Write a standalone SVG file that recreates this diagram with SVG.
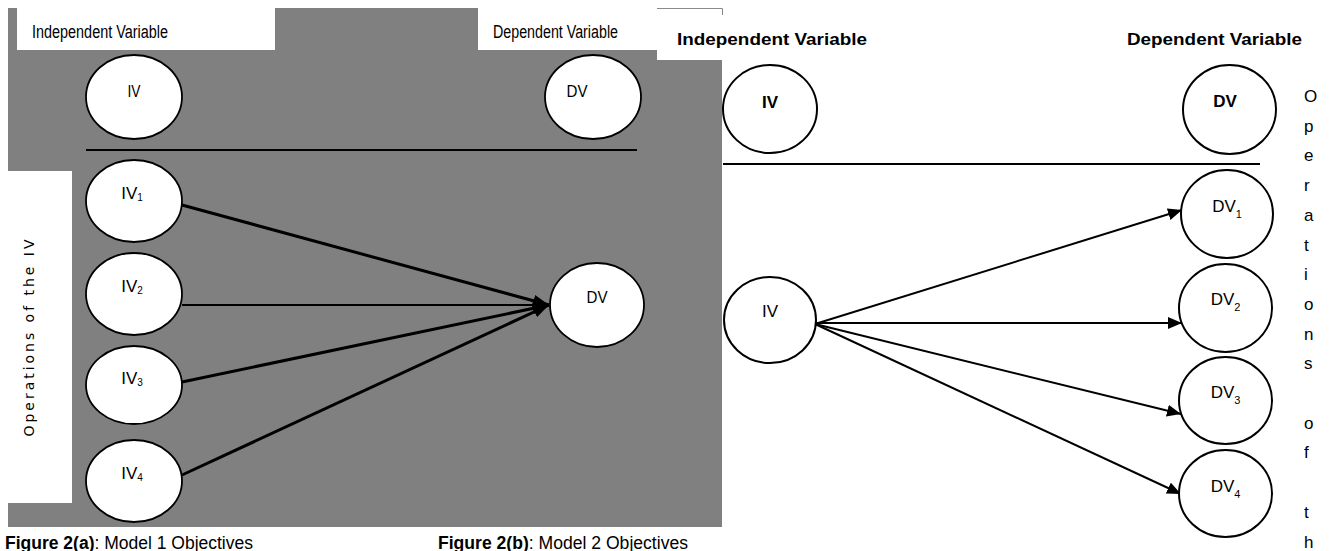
<svg xmlns="http://www.w3.org/2000/svg" width="1329" height="551" viewBox="0 0 1329 551">
<style>
.nodeA{fill:#fff;stroke:#000;stroke-width:1.8}
.nodeB{fill:#fff;stroke:#000;stroke-width:2}
.lblA{font-family:"Liberation Sans",Arial,sans-serif;font-size:17px;fill:#000;text-anchor:middle}
.hdrA{font-family:"Liberation Sans",Arial,sans-serif;font-size:18px;fill:#000}
.hdrB{font-family:"Liberation Sans",Arial,sans-serif;font-size:17px;fill:#000}
.lblB{font-family:"Liberation Sans",Arial,sans-serif;font-size:17px;fill:#000;text-anchor:middle}
.bold{font-weight:bold}
.sub{font-size:10px}
.subB{font-size:11px}
.cap{font-family:"Liberation Sans",Arial,sans-serif;font-size:18px;fill:#000}
.thick{stroke:#000;stroke-width:3;fill:none}
.thin{stroke:#000;stroke-width:1.8;fill:none}
.thinB{stroke:#000;stroke-width:2;fill:none}
</style>
<defs>
<marker id="ahA" markerUnits="userSpaceOnUse" markerWidth="16" markerHeight="12" refX="16" refY="6" orient="auto">
<path d="M0,0 L16,6 L0,12 z" fill="#000"/>
</marker>
<marker id="ahB" markerUnits="userSpaceOnUse" markerWidth="14" markerHeight="12" refX="14" refY="6" orient="auto">
<path d="M0,0 L14,6 L0,12 z" fill="#000"/>
</marker>
</defs>

<!-- Figure 2(a) background -->
<g id="panelA">
<rect x="8" y="8" width="714" height="519" fill="#808080"/>
<rect x="17" y="0" width="258" height="50" fill="#fff"/>
<rect x="478" y="0" width="244" height="50" fill="#fff"/>
<rect x="8" y="171" width="64" height="332" fill="#fff"/>
<text class="hdrA" x="32" y="38" textLength="136" lengthAdjust="spacingAndGlyphs">Independent Variable</text>
<text class="hdrA" x="493" y="38" textLength="125" lengthAdjust="spacingAndGlyphs">Dependent Variable</text>
<text x="0" y="0" transform="translate(34,338) rotate(-90)" font-family="DejaVu Sans, sans-serif" font-size="14" fill="#000" text-anchor="middle" textLength="197" lengthAdjust="spacing">Operations of the IV</text>
<line x1="86" y1="150" x2="637" y2="150" stroke="#000" stroke-width="1.8"/>
</g>

<!-- Figure 2(b) background cover -->
<rect x="657" y="0" width="80" height="60" fill="#fff"/>
<path d="M657,8.5 H722.5 V15" fill="none" stroke="#8a8a8a" stroke-width="1"/>

<g id="connectorsA">
<line class="thick" x1="182" y1="205" x2="549" y2="305" marker-end="url(#ahA)"/>
<line class="thin" x1="182" y1="305" x2="549" y2="305" marker-end="url(#ahA)"/>
<line class="thick" x1="182" y1="382" x2="549" y2="305" marker-end="url(#ahA)"/>
<line class="thick" x1="182" y1="475" x2="549" y2="305" marker-end="url(#ahA)"/>
</g>

<g id="a-IV"><ellipse class="nodeA" cx="134" cy="97" rx="48" ry="42"/><text class="lblA" x="134" y="97" textLength="13" lengthAdjust="spacingAndGlyphs">IV</text></g>
<g id="a-DV"><ellipse class="nodeA" cx="593" cy="97" rx="48" ry="42"/><text class="lblA" x="577" y="97" textLength="21" lengthAdjust="spacingAndGlyphs">DV</text></g>
<g id="a-IV1"><ellipse class="nodeA" cx="134" cy="201" rx="48" ry="41"/><text class="lblA" x="132" y="199">IV<tspan class="sub" dy="2">1</tspan></text></g>
<g id="a-IV2"><ellipse class="nodeA" cx="134" cy="294" rx="48" ry="41"/><text class="lblA" x="132" y="292">IV<tspan class="sub" dy="2">2</tspan></text></g>
<g id="a-IV3"><ellipse class="nodeA" cx="134" cy="385" rx="48" ry="39"/><text class="lblA" x="132" y="384">IV<tspan class="sub" dy="2">3</tspan></text></g>
<g id="a-IV4"><ellipse class="nodeA" cx="134" cy="481" rx="48" ry="41"/><text class="lblA" x="132" y="479">IV<tspan class="sub" dy="2">4</tspan></text></g>
<g id="a-DVc"><ellipse class="nodeA" cx="597" cy="305" rx="47" ry="42"/><text class="lblA" x="597" y="303" textLength="21" lengthAdjust="spacingAndGlyphs">DV</text></g>

<!-- Figure 2(b) -->
<g id="headersB">
<text class="hdrB bold" x="677" y="45" textLength="190" lengthAdjust="spacingAndGlyphs">Independent Variable</text>
<text class="hdrB bold" x="1127" y="45" textLength="175" lengthAdjust="spacingAndGlyphs">Dependent Variable</text>
<line x1="723" y1="164" x2="1260" y2="164" stroke="#000" stroke-width="2"/>
<text class="hdrB" x="1304" y="102" font-size="18">O<tspan x="1304" dy="29.7">p</tspan><tspan x="1304" dy="29.7">e</tspan><tspan x="1304" dy="29.7">r</tspan><tspan x="1304" dy="29.7">a</tspan><tspan x="1304" dy="29.7">t</tspan><tspan x="1304" dy="29.7">i</tspan><tspan x="1304" dy="29.7">o</tspan><tspan x="1304" dy="29.7">n</tspan><tspan x="1304" dy="29.7">s</tspan><tspan x="1304" dy="59.4">o</tspan><tspan x="1304" dy="29.7">f</tspan><tspan x="1304" dy="59.4">t</tspan><tspan x="1304" dy="29.7">h</tspan></text>
</g>

<g id="connectorsB">
<line class="thinB" x1="815" y1="324" x2="1182" y2="210" marker-end="url(#ahB)"/>
<line class="thinB" x1="816" y1="323" x2="1182" y2="323" marker-end="url(#ahB)"/>
<line class="thinB" x1="815" y1="324" x2="1181" y2="414" marker-end="url(#ahB)"/>
<line class="thinB" x1="815" y1="324" x2="1181" y2="494" marker-end="url(#ahB)"/>
</g>

<g id="b-IV"><ellipse class="nodeB" cx="770" cy="109" rx="47" ry="44"/><text class="lblB bold" x="770" y="108">IV</text></g>
<g id="b-DV"><ellipse class="nodeB" cx="1229.5" cy="109.5" rx="46.5" ry="44.5"/><text class="lblB bold" x="1225" y="107">DV</text></g>
<g id="b-IVc"><ellipse class="nodeB" cx="770" cy="320" rx="46" ry="43"/><text class="lblB" x="770" y="317">IV</text></g>
<g id="b-DV1"><ellipse class="nodeB" cx="1227" cy="214" rx="46" ry="44"/><text class="lblB" x="1227" y="212">DV<tspan class="subB" dy="6">1</tspan></text></g>
<g id="b-DV2"><ellipse class="nodeB" cx="1225.5" cy="308" rx="46.5" ry="44"/><text class="lblB" x="1225.5" y="305">DV<tspan class="subB" dy="6">2</tspan></text></g>
<g id="b-DV3"><ellipse class="nodeB" cx="1225.5" cy="400.5" rx="46.5" ry="43.5"/><text class="lblB" x="1225.5" y="398">DV<tspan class="subB" dy="6">3</tspan></text></g>
<g id="b-DV4"><ellipse class="nodeB" cx="1225.5" cy="493.5" rx="46.5" ry="43.5"/><text class="lblB" x="1225.5" y="492">DV<tspan class="subB" dy="6">4</tspan></text></g>

<g id="captions">
<text class="cap" x="5" y="549" textLength="248" lengthAdjust="spacingAndGlyphs"><tspan class="bold">Figure 2(a)</tspan>: Model 1 Objectives</text>
<text class="cap" x="438" y="549" textLength="250" lengthAdjust="spacingAndGlyphs"><tspan class="bold">Figure 2(b)</tspan>: Model 2 Objectives</text>
</g>
</svg>
